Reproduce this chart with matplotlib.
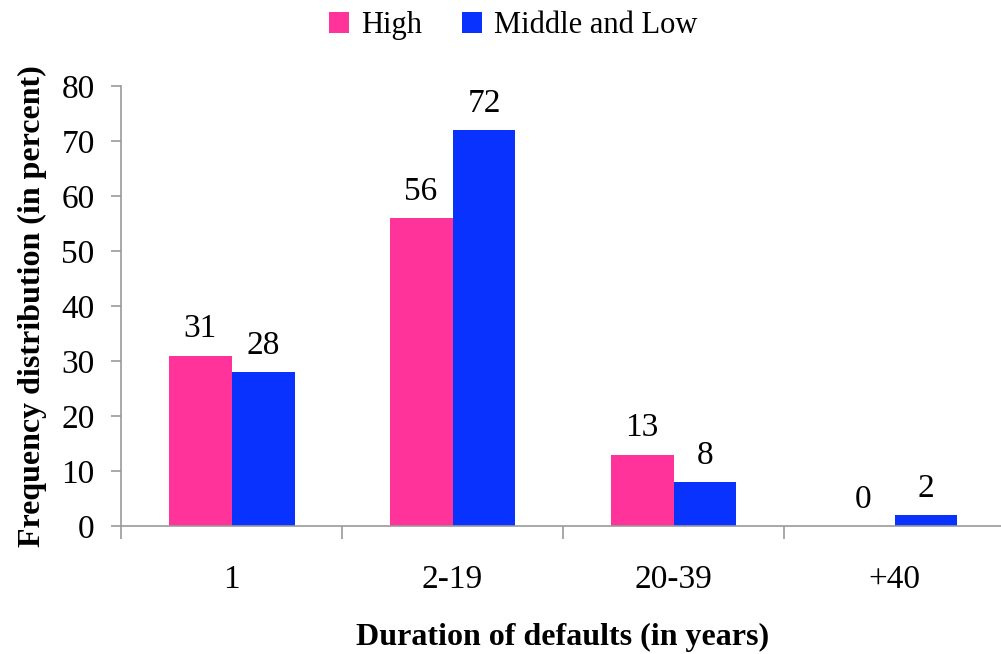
import matplotlib.pyplot as plt
import numpy as np

plt.rcParams['font.family'] = ['Liberation Serif', 'DejaVu Serif']

categories = ['1', '2-19', '20-39', '+40']
high = [31, 56, 13, 0]
middle_low = [28, 72, 8, 2]
series_names = ['High', 'Middle and Low']
colors = ['#FF3399', '#0A32FF']

fig = plt.figure(figsize=(10.01, 6.54), dpi=100)
ax = fig.add_axes([0.1209, 0.1957, 0.8831, 0.6728])

x = np.arange(len(categories))
w = 0.285
bars_h = ax.bar(x - w / 2, high, w, color=colors[0], label=series_names[0])
bars_m = ax.bar(x + w / 2, middle_low, w, color=colors[1], label=series_names[1])

# value labels above each bar
for bars in (bars_h, bars_m):
    for b in bars:
        v = b.get_height()
        ax.annotate(f'{v:g}', (b.get_x() + b.get_width() / 2, v),
                    xytext=(0, 8), textcoords='offset points',
                    ha='center', va='bottom', fontsize=24)

ax.set_xlim(-0.5, 3.5)
ax.set_ylim(0, 80)
ax.set_yticks(range(0, 81, 10))
ax.tick_params(axis='y', labelsize=24, length=7, width=1.2, color='#999999', pad=12)

# category labels centred, tick marks on the group boundaries
ax.set_xticks(x)
ax.set_xticklabels(categories)
ax.set_xticks(np.arange(-0.5, 4.0, 1.0), minor=True)
ax.tick_params(axis='x', which='major', length=0, labelsize=24, pad=28)
ax.tick_params(axis='x', which='minor', length=9, width=1.2, color='#999999')

for side in ('top', 'right'):
    ax.spines[side].set_visible(False)
for side in ('left', 'bottom'):
    ax.spines[side].set_color('#999999')
    ax.spines[side].set_linewidth(1.2)

ax.set_xlabel('Duration of defaults (in years)', fontsize=23,
              fontweight='bold', labelpad=20)
ax.set_ylabel('Frequency distribution (in percent)', fontsize=23,
              fontweight='bold', labelpad=10)

fig.legend(handles=[bars_h, bars_m], labels=series_names, loc='upper center',
           bbox_to_anchor=(0.513, 1.025), ncol=2, frameon=False, fontsize=22,
           handlelength=0.65, handleheight=0.65, handletextpad=0.4,
           columnspacing=1.3)

fig.savefig('out.png', dpi=100)
